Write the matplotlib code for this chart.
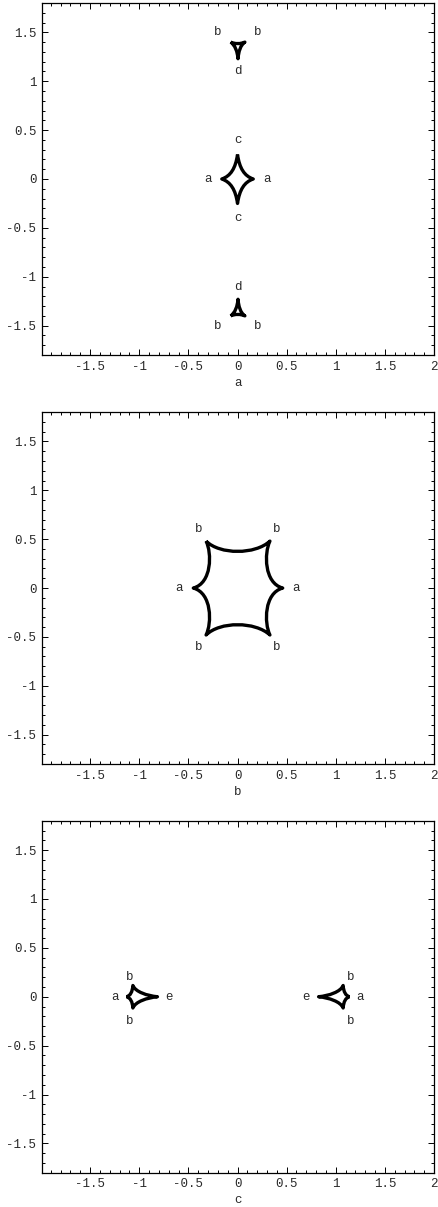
import matplotlib
matplotlib.use("Agg")
import matplotlib.pyplot as plt
import numpy as np
from matplotlib.path import Path
from matplotlib.patches import PathPatch
from matplotlib.ticker import MultipleLocator

# caustic curves: closed chains of cubic Bezier pieces
# [cusp, ctrl, ctrl, cusp, ctrl, ctrl, ...]
diamond_a = [(0, 0.25), (0.02, 0.11), (0.07, 0.03),
             (0.16, 0), (0.07, -0.03), (0.02, -0.11),
             (0, -0.25), (-0.02, -0.11), (-0.07, -0.03),
             (-0.16, 0), (-0.07, 0.03), (-0.02, 0.11)]

deltoid_top_a = [(-0.07, 1.40), (-0.03, 1.38), (0.035, 1.38),
                 (0.075, 1.40), (0.03, 1.37), (0.01, 1.30),
                 (0.005, 1.23), (0.0, 1.30), (-0.025, 1.37)]

deltoid_bot_a = [(-0.07, -1.40), (-0.03, -1.38), (0.035, -1.38),
                 (0.075, -1.40), (0.03, -1.37), (0.01, -1.30),
                 (0.005, -1.23), (0.0, -1.30), (-0.025, -1.37)]

hexagon_b = [(-0.32, 0.48), (-0.18, 0.34), (0.18, 0.34),
             (0.33, 0.48), (0.27, 0.36), (0.27, 0.05),
             (0.46, 0), (0.27, -0.05), (0.27, -0.36),
             (0.33, -0.48), (0.18, -0.34), (-0.18, -0.34),
             (-0.32, -0.48), (-0.26, -0.36), (-0.26, -0.05),
             (-0.45, 0), (-0.26, 0.05), (-0.26, 0.36)]

kite_left_c = [(-1.13, 0), (-1.09, 0.01), (-1.07, 0.05),
               (-1.065, 0.115), (-1.04, 0.05), (-0.92, 0.01),
               (-0.815, 0), (-0.92, -0.01), (-1.04, -0.05),
               (-1.065, -0.115), (-1.07, -0.05), (-1.09, -0.01)]

kite_right_c = [(1.14, 0), (1.10, 0.01), (1.08, 0.05),
                (1.075, 0.115), (1.05, 0.05), (0.93, 0.01),
                (0.825, 0), (0.93, -0.01), (1.05, -0.05),
                (1.075, -0.115), (1.08, -0.05), (1.10, -0.01)]

labels_a = [("b", -0.2, 1.5), ("b", 0.2, 1.5), ("d", 0, 1.1),
            ("c", 0, 0.4), ("a", -0.3, 0), ("a", 0.3, 0), ("c", 0, -0.4),
            ("d", 0, -1.1), ("b", -0.2, -1.5), ("b", 0.2, -1.5)]
labels_b = [("b", -0.4, 0.6), ("b", 0.4, 0.6), ("a", -0.6, 0), ("a", 0.6, 0),
            ("b", -0.4, -0.6), ("b", 0.4, -0.6)]
labels_c = [("b", -1.1, 0.2), ("a", -1.25, 0), ("e", -0.7, 0), ("b", -1.1, -0.25),
            ("b", 1.15, 0.2), ("e", 0.7, 0), ("a", 1.25, 0), ("b", 1.15, -0.25)]

panels = [("a", [diamond_a, deltoid_top_a, deltoid_bot_a], labels_a),
          ("b", [hexagon_b], labels_b),
          ("c", [kite_left_c, kite_right_c], labels_c)]

font = "Liberation Mono"
txt_color = "#2a2a2a"
fs = 9

fig = plt.figure(figsize=(4.38, 12.07), dpi=100)
bottoms = [0.7059, 0.3670, 0.0284]

for (name, curves, labels), b in zip(panels, bottoms):
    ax = fig.add_axes([0.0959, b, 0.895, 0.2916])
    for pts in curves:
        verts = list(pts) + [pts[0]]
        codes = [Path.MOVETO] + [Path.CURVE4] * len(pts)
        ax.add_patch(PathPatch(Path(verts, codes), facecolor="none",
                               edgecolor="black", lw=2.4, joinstyle="round"))
    for t, x, y in labels:
        ax.text(x, y, t, ha="center", va="center", fontsize=fs,
                family=font, color=txt_color)

    ax.set_xlim(-1.99, 2.0)
    ax.set_ylim(-1.8, 1.8)
    ax.xaxis.set_major_locator(MultipleLocator(0.5))
    ax.xaxis.set_minor_locator(MultipleLocator(0.1))
    ax.yaxis.set_major_locator(MultipleLocator(0.5))
    ax.yaxis.set_minor_locator(MultipleLocator(0.1))
    ax.xaxis.set_major_formatter(lambda v, p: "0" if abs(v) < 1e-9 else f"{v:g}")
    ax.yaxis.set_major_formatter(lambda v, p: "0" if abs(v) < 1e-9 else f"{v:g}")
    ax.tick_params(which="both", direction="in", top=True, right=True,
                   labeltop=False, labelright=False, width=0.7, color="black")
    ax.tick_params(which="major", length=4, pad=4, labelsize=fs,
                   labelcolor=txt_color)
    ax.tick_params(which="minor", length=2)
    for lab in ax.get_xticklabels() + ax.get_yticklabels():
        lab.set_family(font)
    for s in ax.spines.values():
        s.set_linewidth(0.9)
    ax.set_xlabel(name, family=font, fontsize=fs, color=txt_color, labelpad=3)

fig.savefig("out.png", dpi=100)
